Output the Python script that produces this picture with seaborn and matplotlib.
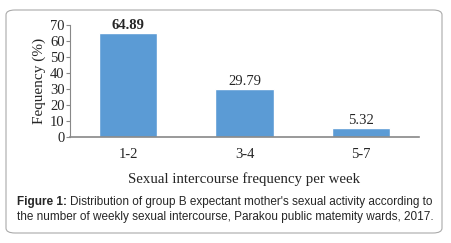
import matplotlib
matplotlib.use("Agg")
import matplotlib.pyplot as plt
import seaborn as sns
import pandas as pd
from matplotlib.patches import FancyBboxPatch

# data
categories = ["1-2", "3-4", "5-7"]
frequency = [64.89, 29.79, 5.32]
value_labels = ["64.89", "29.79", "5.32"]

df = pd.DataFrame({"cat": categories, "freq": frequency})

sns.set_style("white")
plt.rcParams["font.family"] = ["Liberation Serif", "DejaVu Serif"]

fig = plt.figure(figsize=(4.51, 2.43), dpi=100)
ax = fig.add_axes([70 / 451, 1 - 136.5 / 243, 349 / 451, 111.5 / 243])

sns.barplot(data=df, x="cat", y="freq", color="#5B9BD5", saturation=1,
            width=0.5, ax=ax)

ax.set_xlim(-0.5, 2.5)
ax.set_ylim(0, 70)
ax.set_yticks(range(0, 71, 10))
ax.tick_params(axis="y", left=True, length=3, width=0.8, color="#888888",
               labelsize=10.5, pad=1)
ax.tick_params(axis="x", bottom=False, labelsize=10.5, pad=4.5)
for s in ["top", "right"]:
    ax.spines[s].set_visible(False)
ax.spines["left"].set_color("#888888")
ax.spines["bottom"].set_color("#888888")
ax.spines["left"].set_linewidth(0.8)
ax.spines["bottom"].set_linewidth(1.2)

ax.set_ylabel("Fequency (%)", fontsize=11, labelpad=3)
ax.set_xlabel("Sexual intercourse frequency per week", fontsize=10.7, labelpad=8)

texts = ax.bar_label(ax.containers[0], labels=value_labels, fontsize=10.5, padding=1)
texts[0].set_fontweight("bold")

# rounded frame
frame = FancyBboxPatch((6 / 451, 10 / 243), 436 / 451, 223 / 243,
                       boxstyle="round,pad=0,rounding_size=0.02",
                       transform=fig.transFigure, fill=False,
                       edgecolor="#aaaaaa", linewidth=0.8)
fig.patches.append(frame)

# caption
cap_font = ["Liberation Sans", "DejaVu Sans"]
cap_size = 8.5
t1 = fig.text(17 / 451, 1 - 201.5 / 243, "Figure 1:", fontsize=cap_size,
              fontweight="bold", family=cap_font, va="center")
fig.canvas.draw()
bb = t1.get_window_extent()
fig.text(bb.x1 / 451 + 2.5 / 451, 1 - 201.5 / 243,
         "Distribution of group B expectant mother's sexual activity according to",
         fontsize=cap_size, family=cap_font, va="center")
fig.text(17 / 451, 1 - 216.5 / 243,
         "the number of weekly sexual intercourse, Parakou public matemity wards, 2017.",
         fontsize=cap_size, family=cap_font, va="center")

fig.savefig("out.png", dpi=100)
